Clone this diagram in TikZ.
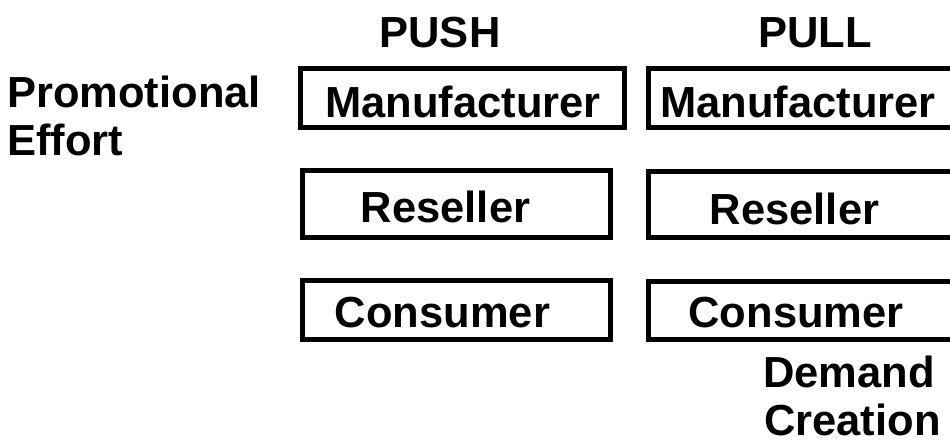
\documentclass[tikz,border=0pt]{standalone}
\usepackage{fontspec}
\setmainfont{Liberation Sans}
\begin{document}
\begin{tikzpicture}[x=1pt,y=-1pt,
  box/.style={draw=black,line width=5pt,fill=none,inner sep=0pt,rectangle},
  lab/.style={inner sep=0pt,anchor=base,font=\fontsize{43.5}{50}\selectfont\bfseries},
  labw/.style={lab,anchor=base west}]
\useasboundingbox (0,0) rectangle (950,443);
\clip (0,0) rectangle (950,443);
% column heads
\node[lab] (push) at (440,48) {PUSH};
\node[lab] (pull) at (815,48) {PULL};
% left side labels
\node[labw] (promo1) at (7,108) {Promotional};
\node[labw] (promo2) at (7,156) {Effort};
% PUSH column boxes
\node[box,minimum width=324pt,minimum height=59pt] (mfrL) at (462.5,98.5) {};
\node[box,minimum width=307.5pt,minimum height=67pt] (resL) at (456.25,204) {};
\node[box,minimum width=307.5pt,minimum height=59pt] (conL) at (456.25,310) {};
% PULL column boxes (cut by the right edge)
\node[box,minimum width=316.5pt,minimum height=59pt] (mfrR) at (806.75,98.5) {};
\node[box,minimum width=316.5pt,minimum height=66pt] (resR) at (806.75,204.5) {};
\node[box,minimum width=316.5pt,minimum height=58pt] (conR) at (806.75,310.5) {};
% box texts
\node[lab] (mfrLt) at (463,118) {Manufacturer};
\node[lab] (resLt) at (445.5,223) {Reseller};
\node[lab] (conLt) at (442.5,328) {Consumer};
\node[lab] (mfrRt) at (798,118) {Manufacturer};
\node[lab] (resRt) at (794.5,225) {Reseller};
\node[lab] (conRt) at (796,328) {Consumer};
% bottom label
\node[labw] (dem1) at (763,387) {Demand};
\node[labw] (dem2) at (764,435) {Creation};
\end{tikzpicture}
\end{document}
